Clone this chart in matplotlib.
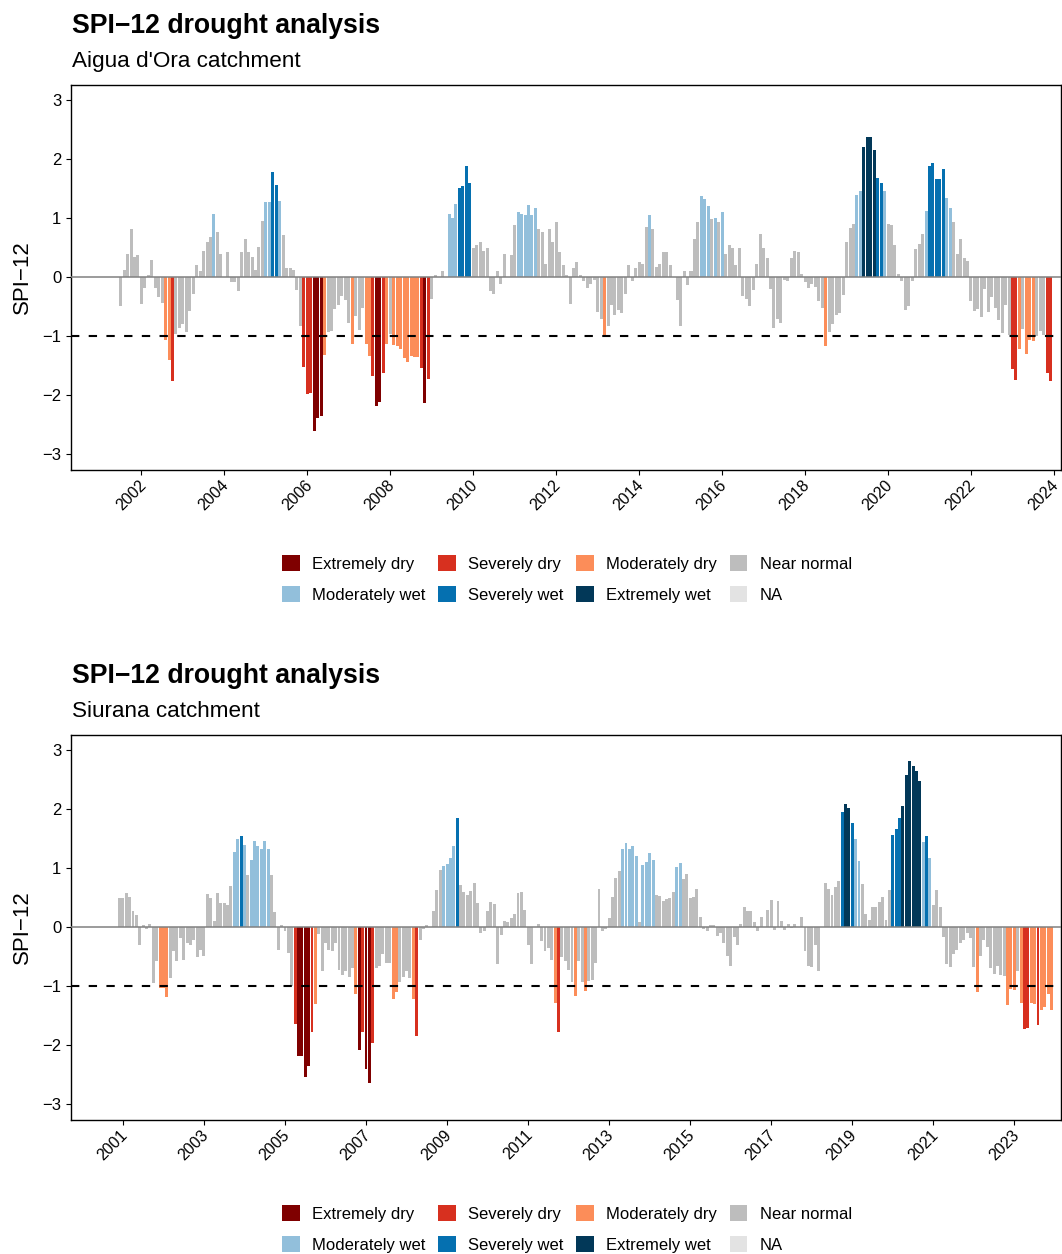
import numpy as np
import matplotlib
matplotlib.use("Agg")
import matplotlib.pyplot as plt
from matplotlib.patches import Patch
from matplotlib.transforms import ScaledTranslation

plt.rcParams['font.family'] = ['Liberation Sans', 'DejaVu Sans']
plt.rcParams['axes.unicode_minus'] = True

# SPI-12 mensual, Aigua d'Ora (primer mes: julio 2001)
aigua_dora_inicio = (2001, 7)
aigua_dora_spi = [
    -0.48, 0.13, 0.40, 0.82, 0.35, 0.38, -0.46, -0.18, 0.03, 0.30, -0.19, -0.33,
    -0.43, -1.07, -1.41, -1.76, -0.97, -0.87, -0.80, -0.93, -0.58, -0.29, 0.20, 0.11,
    0.45, 0.59, 0.69, 1.08, 0.76, 0.40, 0.00, 0.43, -0.08, -0.08, -0.24, 0.42,
    0.64, 0.43, 0.35, 0.13, 0.52, 0.96, 1.28, 1.28, 1.79, 1.57, 1.30, 0.71,
    0.16, 0.15, 0.13, -0.21, -0.83, -1.53, -1.98, -1.97, -2.61, -2.39, -2.36, -1.32,
    -0.93, -0.92, -0.54, -0.47, -0.32, -0.39, -0.78, -1.14, -0.66, -0.90, -0.53, -1.14,
    -1.34, -1.68, -2.19, -2.12, -1.63, -1.14, -0.97, -1.15, -1.17, -1.22, -1.37, -1.44,
    -1.34, -1.36, -1.36, -1.54, -2.14, -1.73, -0.37, 0.03, 0.00, 0.10, 0.00, 1.08,
    1.01, 1.25, 1.52, 1.55, 1.89, 1.60, 0.49, 0.55, 0.59, 0.45, 0.50, -0.24,
    -0.28, 0.10, -0.11, 0.40, 0.00, 0.38, 0.89, 1.10, 1.08, 1.05, 1.23, 1.06,
    1.18, 0.82, 0.77, 0.23, 0.82, 0.59, 0.93, 0.42, 0.21, 0.03, -0.46, 0.15,
    0.25, 0.03, -0.07, -0.18, -0.12, -0.04, -0.59, -0.71, -1.01, -0.83, -0.47, -0.64,
    -0.56, -0.61, -0.29, 0.21, -0.07, 0.15, 0.25, 0.23, 0.86, 1.06, 0.82, 0.18,
    0.23, 0.42, 0.42, 0.21, 0.01, -0.39, -0.83, 0.10, -0.14, 0.10, 0.64, 0.93,
    1.37, 1.33, 1.20, 0.98, 1.01, 0.93, 1.11, 0.40, 0.54, 0.49, 0.20, 0.49,
    -0.32, -0.37, -0.49, -0.22, 0.23, 0.74, 0.49, 0.32, -0.20, -0.86, -0.71, -0.78,
    -0.05, -0.07, 0.32, 0.45, 0.42, 0.05, -0.08, -0.19, -0.12, -0.17, -0.41, -0.53,
    -1.17, -0.93, -0.80, -0.64, -0.61, -0.31, 0.59, 0.84, 0.91, 1.40, 1.47, 2.21,
    2.38, 2.38, 2.16, 1.69, 1.59, 1.47, 0.91, 0.88, 0.54, 0.05, -0.07, -0.56,
    -0.49, -0.07, 0.47, 0.57, 0.74, 1.13, 1.89, 1.94, 1.66, 1.66, 1.84, 1.35,
    1.18, 0.94, 0.40, 0.64, 0.33, 0.28, -0.41, -0.58, -0.54, -0.68, -0.20, -0.59,
    -0.34, -0.53, -0.73, -0.95, -0.47, -0.98, -1.56, -1.75, -1.22, -0.88, -1.31, -1.07,
    -1.08, -0.99, -0.92, -0.98, -1.63, -1.76,
]

# SPI-12 mensual, Siurana (primer mes: diciembre 2000)
siurana_inicio = (2000, 12)
siurana_spi = [
    0.49, 0.49, 0.58, 0.51, 0.27, 0.20, -0.31, 0.03, -0.03, 0.06, -0.94, -0.57,
    -1.03, -1.03, -1.18, -0.87, -0.41, -0.57, -0.19, -0.55, -0.27, -0.31, -0.22, -0.51,
    -0.38, -0.48, 0.56, 0.49, 0.11, 0.58, 0.41, 0.41, 0.37, 0.70, 1.28, 1.49,
    1.54, 1.40, 0.89, 1.14, 1.47, 1.37, 1.33, 1.47, 1.33, 0.89, 0.25, -0.39,
    0.03, -0.07, -0.43, -0.99, -1.65, -2.18, -2.18, -2.54, -2.35, -1.78, -1.30, -0.12,
    -0.74, -0.27, -0.39, -0.41, -0.26, -0.72, -0.81, -0.75, -0.84, -0.70, -1.13, -2.09,
    -1.77, -2.40, -2.64, -1.97, -0.69, -0.65, -0.46, -0.60, -0.60, -1.22, -1.10, -0.93,
    -0.84, -0.75, -0.87, -1.22, -1.85, -0.21, -0.03, 0.03, 0.00, 0.27, 0.63, 0.97,
    1.04, 1.07, 1.18, 1.37, 1.86, 0.71, 0.59, 0.54, 0.61, 0.75, 0.41, -0.09,
    -0.07, 0.27, 0.42, 0.39, -0.63, -0.14, 0.11, 0.08, 0.15, 0.23, 0.58, 0.59,
    0.30, -0.31, -0.62, 0.00, 0.06, -0.24, -0.41, -0.36, -0.55, -1.29, -1.77, -0.50,
    -0.58, -0.72, -0.93, -1.17, -0.58, -0.93, -1.08, -0.91, -0.89, -0.60, 0.65, -0.07,
    -0.03, 0.15, 0.51, 0.83, 0.95, 1.33, 1.43, 1.33, 1.38, 1.21, 0.08, 1.06,
    1.11, 1.26, 1.14, 0.54, 0.53, 0.44, 0.47, 0.49, 0.59, 1.02, 1.09, 0.82,
    0.90, 0.49, 0.51, 0.65, 0.18, -0.03, -0.07, 0.03, 0.03, -0.15, -0.10, -0.26,
    -0.48, -0.65, -0.17, -0.31, 0.05, 0.34, 0.27, 0.27, 0.08, -0.07, 0.18, 0.00,
    0.30, 0.46, -0.05, 0.44, 0.11, -0.05, 0.05, -0.02, 0.06, 0.00, 0.17, -0.41,
    -0.65, -0.67, -0.31, -0.75, 0.00, 0.75, 0.65, 0.54, 0.68, 0.78, 1.95, 2.09,
    2.02, 1.76, 1.49, 1.13, 0.73, 0.23, 0.13, 0.35, 0.34, 0.42, 0.51, 0.13,
    0.63, 1.57, 1.67, 1.86, 2.05, 2.58, 2.82, 2.74, 2.65, 2.48, 1.45, 1.54,
    1.18, 0.37, 0.63, 0.34, -0.17, -0.63, -0.67, -0.45, -0.38, -0.26, -0.22, -0.09,
    -0.19, -0.67, -1.10, -0.48, -0.21, -0.34, -0.69, -0.79, -0.65, -0.81, -0.82, -1.32,
    -1.05, -1.06, -0.74, -1.29, -1.73, -1.71, -1.29, -1.30, -1.66, -1.41, -1.35, -1.13,
    -1.41,
]

categorias = ["Extremely dry", "Severely dry", "Moderately dry", "Near normal",
              "Moderately wet", "Severely wet", "Extremely wet", "NA"]
colores = ["#7F0000", "#D7301F", "#FC8D59", "#BDBDBD",
           "#92BFDB", "#0570B0", "#023858", "#E3E3E3"]

W, H = 1062, 1254


def clase_spi(v):
    """Devuelve el índice de categoría de sequía para un valor de SPI."""
    if v <= -2:
        return 0
    if v <= -1.5:
        return 1
    if v <= -1:
        return 2
    if v < 1:
        return 3
    if v < 1.5:
        return 4
    if v < 2:
        return 5
    return 6


def panel_spi(fig, top_px, valores, inicio, ticks, xlim, subtitulo):
    """Dibuja un panel de SPI-12 con su título y leyenda."""
    ax = fig.add_axes([71 / W, 1 - (top_px + 385) / H, 990 / W, 385 / H])

    anio, mes = inicio
    x = anio + (mes - 1) / 12 + np.arange(len(valores)) / 12
    col = [colores[clase_spi(v)] for v in valores]
    ax.bar(x, valores, width=0.87 / 12, color=col, linewidth=0, zorder=2)

    ax.axhline(0, color='#808080', linewidth=1.1, zorder=3)
    ax.axhline(-1, color='black', linewidth=1.5, linestyle=(0, (4, 4.5)), zorder=3)

    ax.set_xlim(*xlim)
    ax.set_ylim(-3.27, 3.26)
    ax.set_yticks(range(-3, 4))
    ax.set_xticks(ticks)
    ax.set_xticklabels([str(t) for t in ticks], rotation=45, ha='right',
                       rotation_mode='anchor')
    ax.tick_params(axis='both', labelsize=12, length=3.5, width=0.8,
                   direction='out', color='black', labelcolor='black')
    ax.tick_params(axis='x', pad=2, labelsize=11.5)
    # etiquetas de año un poco a la izquierda para que 2024 no se corte
    desplaza = ScaledTranslation(-3 / 100, 0, fig.dpi_scale_trans)
    for lab in ax.get_xticklabels():
        lab.set_transform(lab.get_transform() + desplaza)
    for s in ax.spines.values():
        s.set_linewidth(1.0)
        s.set_color('black')

    # títulos y eje
    fig.text(72 / W, 1 - (top_px - 52) / H, "SPI\u221212 drought analysis",
             fontsize=19.2, fontweight='bold', va='baseline', ha='left')
    fig.text(72 / W, 1 - (top_px - 18) / H, subtitulo,
             fontsize=16.2, va='baseline', ha='left')
    fig.text(22 / W, 1 - (top_px + 192) / H, "SPI\u221212", rotation=90,
             fontsize=16, va='center', ha='center')

    # leyenda en 2 filas x 4 columnas (matplotlib rellena por columnas)
    orden = [0, 4, 1, 5, 2, 6, 3, 7]
    handles = [Patch(facecolor=colores[k], edgecolor='none', label=categorias[k])
               for k in orden]
    fig.legend(handles=handles, ncol=4, loc='center',
               bbox_to_anchor=(567 / W, 1 - (top_px + 494) / H),
               frameon=False, fontsize=12, handlelength=1.05, handleheight=1.05,
               handletextpad=0.75, columnspacing=0.75, labelspacing=0.88,
               borderpad=0)
    return ax


if __name__ == '__main__':
    fig = plt.figure(figsize=(W / 100, H / 100), dpi=100)
    panel_spi(fig, 85, aigua_dora_spi, aigua_dora_inicio,
              list(range(2002, 2025, 2)), (2000.303, 2024.170),
              "Aigua d'Ora catchment")
    panel_spi(fig, 735, siurana_spi, siurana_inicio,
              list(range(2001, 2024, 2)), (2001 - 51.9 / 40.52, 2001 + 938.1 / 40.52),
              "Siurana catchment")
    fig.savefig("out.png", dpi=100)
